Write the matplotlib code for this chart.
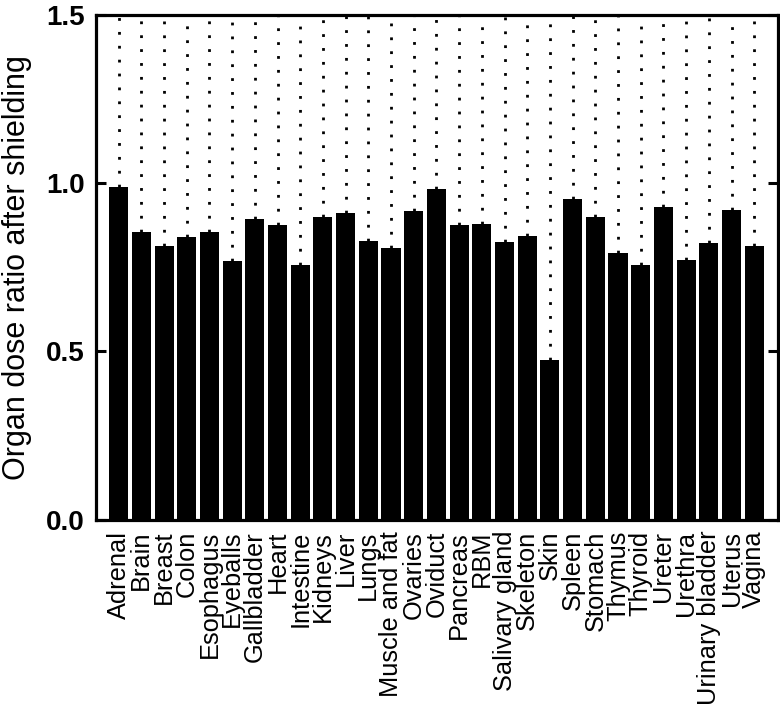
import numpy as np
import matplotlib
matplotlib.use("Agg")
import matplotlib.pyplot as plt

organs = ["Adrenal", "Brain", "Breast", "Colon", "Esophagus", "Eyeballs",
          "Gallbladder", "Heart", "Intestine", "Kidneys", "Liver", "Lungs",
          "Muscle and fat", "Ovaries", "Oviduct", "Pancreas", "RBM",
          "Salivary gland", "Skeleton", "Skin", "Spleen", "Stomach", "Thymus",
          "Thyroid", "Ureter", "Urethra", "Urinary bladder", "Uterus", "Vagina"]
ratio = [0.990, 0.856, 0.812, 0.841, 0.854, 0.770,
         0.895, 0.875, 0.756, 0.901, 0.913, 0.829,
         0.807, 0.916, 0.982, 0.876, 0.880,
         0.825, 0.844, 0.475, 0.954, 0.901, 0.794,
         0.757, 0.928, 0.773, 0.821, 0.919, 0.812]
yticks = [0.0, 0.5, 1.0, 1.5]

plt.rcParams['font.family'] = ['Liberation Sans', 'DejaVu Sans']

fig = plt.figure(figsize=(7.8, 7.12), dpi=100)
ax = fig.add_axes([0.123, 0.27, 0.8745, 0.709])

x = np.arange(len(organs))
ax.bar(x, ratio, width=0.84, color="black", zorder=2)
# dotted guide from each bar top up to the frame
ax.vlines(x, ratio, 1.5, colors="black", linewidth=2,
          linestyles=[(0, (1, 4))], zorder=1)

ax.set_xlim(-1.0, len(organs) + 0.05)
ax.set_ylim(0, 1.5)
ax.set_yticks(yticks)
ax.set_yticklabels(["%.1f" % t for t in yticks], fontsize=20, fontweight="bold")
ax.set_xticks(x)
ax.set_xticklabels(organs, rotation=90, fontsize=18.3)
ax.tick_params(axis="x", length=0, pad=8)
ax.tick_params(axis="y", direction="in", length=7, width=2.2,
               right=True, pad=8)
for s in ax.spines.values():
    s.set_linewidth(2.3)

ax.set_ylabel("Organ dose ratio after shielding", fontsize=22)
ax.yaxis.set_label_coords(-0.094, 0.5)

fig.savefig("out.png", dpi=100)
